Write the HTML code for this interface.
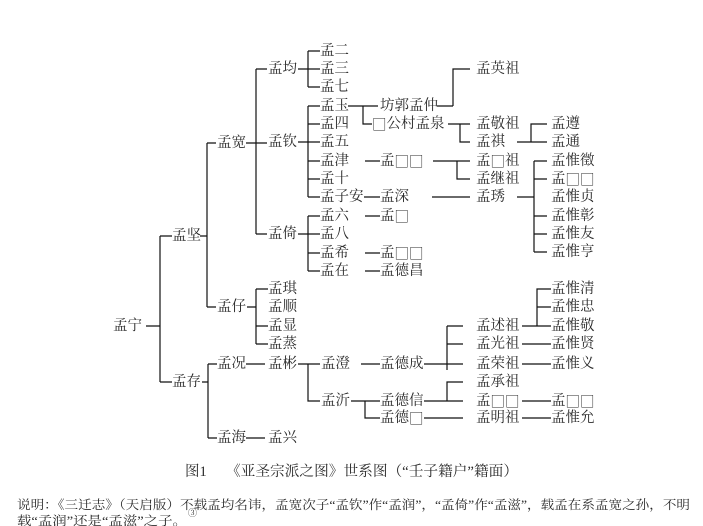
<!DOCTYPE html>
<html><head><meta charset="utf-8"><style>
html,body{margin:0;padding:0;background:#fff;}
svg{display:block;}
text{font-family:"Liberation Serif","Noto Serif CJK SC","Noto Sans CJK SC",serif;font-size:14.5px;fill:#2a2a2a;dominant-baseline:central;}
.b{font-family:"Noto Sans CJK SC","WenQuanYi Zen Hei",sans-serif;font-weight:300;}
.n{font-size:12.5px;}
</style></head><body>
<svg width="703" height="526" viewBox="0 0 703 526" xmlns="http://www.w3.org/2000/svg">
<g stroke="#111" stroke-width="1.2" fill="none">
<path d="M146 326H160M160 236V382M160 236H172M160 382H172"/>
<path d="M200 236H207M207 143V307M207 143H216M207 307H216"/>
<path d="M246 143H256M256 69V234M256 69H267M256 234H267M256 143H267"/>
<path d="M298 69H320M308 51V87M308 51H320M308 87H320"/>
<path d="M298 142H320M308 106V197M308 106H320M308 124H320M308 161H320M308 179H320M308 197H320"/>
<path d="M298 234H320M308 216V271M308 216H320M308 253H320M308 271H320"/>
<path d="M348 106H378M363 106V124H372"/>
<path d="M437 106H453M453 106V69H470"/>
<path d="M448 124H470M460 124V142H470"/>
<path d="M517 142H547M531 142V124H547"/>
<path d="M365 161H380M433 161H470M457 161V179H470"/>
<path d="M364 197H380M432 197H470M517 197H534M534 161V252M534 161H547M534 179H547M534 216H547M534 234H547M534 252H547"/>
<path d="M365 216H380M365 253H380M365 271H380"/>
<path d="M247 307H256M256 289V344M256 289H268M256 326H268M256 344H268"/>
<path d="M202 382H208M208 364V438M208 364H217M208 438H217"/>
<path d="M246 364H265M246 438H265"/>
<path d="M298 364H308M308 364V401H320M308 364H320"/>
<path d="M361 364H380M424 364H447M447 326V370M447 326H463M447 344H463M447 364H463"/>
<path d="M522 326H551M537 326V289H551M537 307H551M522 344H551M522 364H551"/>
<path d="M351 401H380M365 401V418H380"/>
<path d="M424 401H463M447 401V382H463"/>
<path d="M424 418H463M522 401H551M522 418H551"/>
</g>
<text x="113" y="326">孟宁</text>
<text x="172" y="236">孟坚</text>
<text x="172" y="382">孟存</text>
<text x="217" y="143">孟宽</text>
<text x="217" y="307">孟仔</text>
<text x="217" y="364">孟况</text>
<text x="217" y="438">孟海</text>
<text x="268" y="69">孟均</text>
<text x="268" y="142">孟钦</text>
<text x="268" y="234">孟倚</text>
<text x="268" y="289">孟琪</text>
<text x="268" y="307">孟顺</text>
<text x="268" y="326">孟显</text>
<text x="268" y="344">孟蒸</text>
<text x="268" y="364">孟彬</text>
<text x="268" y="438">孟兴</text>
<text x="320" y="51">孟二</text>
<text x="320" y="69">孟三</text>
<text x="320" y="87">孟七</text>
<text x="320" y="106">孟玉</text>
<text x="320" y="124">孟四</text>
<text x="320" y="142">孟五</text>
<text x="320" y="161">孟津</text>
<text x="320" y="179">孟十</text>
<text x="320" y="197">孟子安</text>
<text x="320" y="216">孟六</text>
<text x="320" y="234">孟八</text>
<text x="320" y="253">孟希</text>
<text x="320" y="271">孟在</text>
<text x="321" y="364">孟澄</text>
<text x="321" y="401">孟沂</text>
<text x="380" y="106">坊郭孟仲</text>
<text x="372" y="124"><tspan class="b">□</tspan>公村孟泉</text>
<text x="380" y="161">孟<tspan class="b">□□</tspan></text>
<text x="380" y="197">孟深</text>
<text x="380" y="216">孟<tspan class="b">□</tspan></text>
<text x="380" y="253">孟<tspan class="b">□□</tspan></text>
<text x="380" y="271">孟德昌</text>
<text x="380" y="364">孟德成</text>
<text x="380" y="401">孟德信</text>
<text x="380" y="418">孟德<tspan class="b">□</tspan></text>
<text x="476" y="69">孟英祖</text>
<text x="476" y="124">孟敬祖</text>
<text x="476" y="142">孟祺</text>
<text x="476" y="161">孟<tspan class="b">□</tspan>祖</text>
<text x="476" y="179">孟继祖</text>
<text x="476" y="197">孟琇</text>
<text x="476" y="326">孟述祖</text>
<text x="476" y="344">孟光祖</text>
<text x="476" y="364">孟荣祖</text>
<text x="476" y="382">孟承祖</text>
<text x="476" y="401">孟<tspan class="b">□□</tspan></text>
<text x="476" y="418">孟明祖</text>
<text x="551" y="124">孟遵</text>
<text x="551" y="142">孟通</text>
<text x="551" y="161">孟惟徵</text>
<text x="551" y="179">孟<tspan class="b">□□</tspan></text>
<text x="551" y="197">孟惟贞</text>
<text x="551" y="216">孟惟彰</text>
<text x="551" y="234">孟惟友</text>
<text x="551" y="252">孟惟亨</text>
<text x="551" y="289">孟惟清</text>
<text x="551" y="307">孟惟忠</text>
<text x="551" y="326">孟惟敬</text>
<text x="551" y="344">孟惟贤</text>
<text x="551" y="364">孟惟义</text>
<text x="551" y="401">孟<tspan class="b">□□</tspan></text>
<text x="551" y="418">孟惟允</text>
<text x="185" y="472">图1</text>
<text x="226" y="472" textLength="292" lengthAdjust="spacingAndGlyphs">《亚圣宗派之图》世系图（“壬子籍户”籍面）</text>
<text class="n" x="17" y="505" textLength="673" lengthAdjust="spacingAndGlyphs">说明：《三迁志》（天启版）不载孟均名讳，孟宽次子“孟钦”作“孟润”，“孟倚”作“孟滋”，载孟在系孟宽之孙，不明</text>
<text class="n" x="17" y="521" textLength="170" lengthAdjust="spacingAndGlyphs">载“孟润”还是“孟滋”之子。</text>
<text x="188" y="513" style="font-size:9px">③</text>
</svg>
</body></html>
